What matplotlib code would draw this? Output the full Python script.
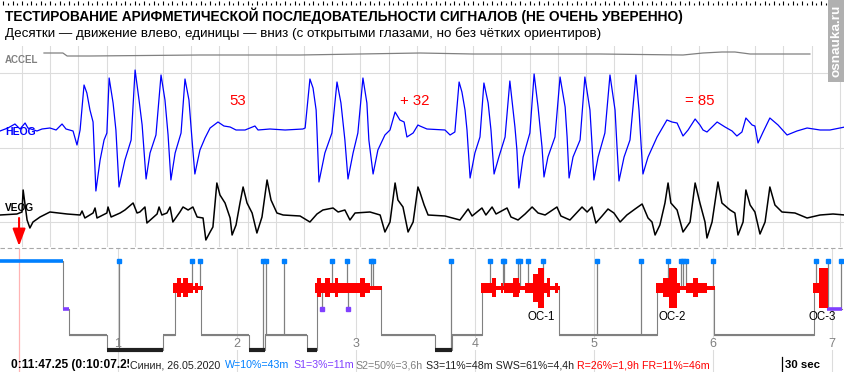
import numpy as np
import matplotlib
matplotlib.use("Agg")
import matplotlib.pyplot as plt
from matplotlib.patches import Rectangle
from matplotlib.lines import Line2D

plt.rcParams["font.family"] = ["Liberation Sans", "DejaVu Sans"]

# ---------------- upper panel: one 30 s epoch, time in seconds ----------------
heog_t = [-0.78, -0.50, -0.25, -0.07, 0.11, 0.21, 0.53, 0.71, 0.99, 1.21, 1.42, 1.56, 1.81, 1.95, 2.06,
          2.20, 2.30, 2.41, 2.52, 2.62, 2.77, 2.91, 3.01, 3.09, 3.23, 3.33, 3.44, 3.65, 3.87, 4.01,
          4.15, 4.26, 4.40, 4.54, 4.75, 4.93, 5.07, 5.18, 5.28, 5.43, 5.64, 5.78, 5.92, 6.03, 6.13,
          6.31, 6.49, 6.67, 6.95, 7.16, 7.38, 7.59, 7.91, 8.26, 8.37, 8.79, 9.33, 9.96, 10.04, 10.21,
          10.32, 10.43, 10.46, 10.53, 10.74, 10.99, 11.17, 11.31, 11.45, 11.56, 11.74, 11.91, 12.09,
          12.23, 12.30, 12.45, 12.62, 12.87, 13.05, 13.23, 13.40, 13.55, 13.65, 13.87, 14.04, 14.11,
          14.36, 15.00, 15.18, 15.35, 15.50, 15.60, 15.71, 15.78, 15.89, 16.06, 16.24, 16.38, 16.53,
          16.63, 16.74, 16.91, 17.13, 17.30, 17.48, 17.55, 17.62, 17.77, 18.01, 18.16, 18.30, 18.44,
          18.51, 18.65, 18.90, 19.08, 19.26, 19.33, 19.40, 19.54, 19.79, 19.96, 20.14, 20.21, 20.28,
          20.43, 20.67, 20.85, 21.03, 21.10, 21.17, 21.35, 21.56, 21.77, 21.88, 21.95, 22.02, 22.20,
          22.52, 22.87, 23.05, 23.23, 23.44, 23.62, 23.87, 24.04, 24.15, 24.29, 24.65, 24.93, 25.18,
          25.35, 25.53, 25.67, 25.89, 25.99, 26.10, 26.28, 26.52, 26.81, 27.13, 27.48, 27.84, 28.30,
          28.65, 29.18]
heog_v = [-1, 2, 6, 1, 7, 2, -1, 1, 2, 0, 6, 1, -1, -15, 0,
          45, 37, 20, 8, -61, -30, -10, -3, 52, 27, 0, -57, -30, -10, 60,
          30, 5, -49, -23, -5, 55, 30, -5, -50, -23, -3, 51, 30, -10, -44,
          -20, -8, 2, 8, 4, 3, 0, 0, 4, 0, 1, 0, 1, 2, 51,
          42, 20, 0, -52, -23, -3, 48, 27, -10, -49, -23, -3, 52,
          27, -10, -44, -20, -5, 0, 18, 10, 8, -7, -3, 5, 4,
          1, 0, -5, -2, 48, 38, 20, 0, -48, -23, -7, 47, 27,
          0, -44, -27, -7, 49, 3, -20, -58, -27, -3, 56, 23, -17,
          -47, -27, -7, 53, 23, -7, -48, -27, -10, 53, 20, -13, -50,
          -27, -3, 55, 20, -17, -51, -27, -10, 55, 20, -13, -44, -27,
          -7, 10, 8, 7, -6, 0, 11, 5, 0, -2, 8, 3, -1,
          -6, -2, 12, 5, 4, -13, -2, 12, 5, -5, -1, 2, 0,
          0, 3]

veog_t = [-0.78, -0.18, 0.00, 0.04, 0.11, 0.18, 0.28, 0.39, 0.64, 0.99, 1.60, 2.06, 2.13, 2.23, 2.52,
          2.59, 2.66, 3.01, 3.05, 3.16, 3.48, 3.65, 3.94, 4.08, 4.18, 4.36, 4.43, 4.79, 4.86, 4.96,
          5.14, 5.25, 5.35, 5.60, 5.71, 5.89, 6.06, 6.21, 6.42, 6.52, 6.67, 6.77, 6.91, 7.02, 7.20,
          7.38, 7.45, 7.59, 7.73, 7.84, 7.98, 8.16, 8.33, 8.51, 8.69, 8.83, 9.04, 9.26, 9.86, 10.21,
          10.46, 10.67, 11.03, 11.21, 11.45, 11.63, 11.81, 12.34, 12.70, 12.87, 13.05, 13.23, 13.33,
          13.51, 13.69, 13.87, 14.04, 14.11, 14.26, 14.40, 15.00, 15.53, 15.82, 15.96, 16.31, 16.45,
          16.67, 16.81, 17.20, 17.34, 17.59, 17.84, 18.09, 18.30, 18.55, 18.97, 19.11, 19.43, 19.86,
          20.04, 20.21, 20.35, 20.57, 20.78, 20.99, 21.21, 21.45, 21.74, 21.99, 22.20, 22.34, 22.45,
          22.62, 22.80, 22.91, 23.01, 23.23, 23.44, 23.69, 23.87, 24.04, 24.22, 24.29, 24.47, 24.68,
          24.82, 25.11, 25.28, 25.39, 25.57, 25.67, 25.82, 25.99, 26.17, 26.35, 26.52, 26.70, 26.95,
          27.41, 27.84, 28.30, 28.76, 29.18]
veog_v = [0, 1, 3, 25, 10, -5, -13, -7, -2, 3, 1, 0, 4, -3, 2,
          7, -3, 2, 8, -2, 2, 5, 12, 2, 3, 8, -8, 1, 8, 0,
          2, 8, -7, 3, 8, 5, 8, -2, -3, -25, -17, -12, 32, 20, 12,
          -3, -20, -10, 12, 28, 12, 2, -18, -2, 35, 15, 2, 0, -1, -7,
          1, 5, 7, 3, 5, -5, 2, 3, 0, -17, -7, 32, 15,
          8, -17, -7, 28, 23, 10, 0, -1, -5, 6, -1, 7, 0,
          8, 1, 7, -2, -5, 1, 8, 2, 0, 8, -1, -5, 8,
          3, 8, -8, -1, 6, 2, -7, 0, 6, 11, -3, -7, -20,
          -10, 12, 32, 12, 5, -17, -7, 32, 12, -7, -23, -7, 33,
          12, 5, 2, -20, -7, 25, 10, 3, -19, -7, 28, 10, 3,
          2, -3, 0, 1, 0]

accel_t = [0.78, 1.45, 1.60, 2.41, 6.31, 9.86, 14.11, 15.99, 20.50, 23.44, 24.15, 24.82, 25.28, 25.82, 27.94]
accel_v = [1, 1, -2, -2, -1, -1, 1, 0, 0, -1, 1, 2, 2, 0, 0]

task_notes = ["53", "+ 32", "= 85"]
task_note_t = [7.66, 13.94, 24.04]

# ---------------- hypnogram: minutes from start of record ----------------
hyp_start = [0, 32.3, 35.3, 54.5, 82.7, 88.7, 101.8, 126.0, 134.0, 155.3, 160.3, 192.6, 219.8,
             228.2, 243.5, 282.4, 331.8, 360.5, 410.9, 417.5]
hyp_stage = ["W", "S1", "S2", "S3", "S2", "R", "S2", "S3", "S2", "S3", "R", "S2", "S3",
             "S2", "R", "S2", "R", "S2", "R", "S1"]
hyp_end = 425.0

wake_blips = [60.5, 97.3, 101.3, 133.1, 134.4, 143.7, 167.9, 175.5, 187.6, 188.6, 227.9, 247.6,
              254.1, 254.6, 261.7, 262.7, 266.7, 274.3, 301.5, 323.7, 337.3, 343.9, 344.9, 346.4,
              360.0, 411.9, 418.0, 424.5]
s1_blips = [162.9, 175.9]

# REM density inside each REM period: (start, end, density level)
rem_1 = [(87.6, 89.6, 2), (89.6, 91.6, 3), (91.6, 92.6, 2), (92.6, 95.3, 3), (95.3, 98.0, 2),
         (98.0, 98.8, 1), (98.8, 100.2, 2), (100.2, 102.7, 1)]
rem_2 = [(159.3, 160.2, 2), (160.2, 162.4, 3), (162.4, 164.4, 2), (164.4, 166.9, 3), (166.9, 169.4, 2),
         (169.4, 170.8, 3), (170.8, 182.0, 2), (182.0, 184.5, 3), (184.5, 187.1, 2), (187.1, 193.0, 1)]
rem_3 = [(243.0, 248.4, 2), (248.4, 250.6, 3), (250.6, 253.1, 1), (253.1, 254.3, 2), (254.3, 254.8, 1),
         (254.8, 259.3, 2), (259.3, 262.2, 3), (262.2, 262.7, 2), (262.7, 265.2, 1), (265.2, 269.4, 2),
         (269.4, 271.9, 3.5), (271.9, 274.8, 4), (274.8, 276.1, 2), (276.1, 277.8, 3), (277.8, 280.3, 1),
         (280.3, 282.0, 2), (282.0, 282.9, 1)]
rem_4 = [(331.3, 334.6, 2), (334.6, 338.0, 3), (338.0, 342.0, 4), (342.0, 343.4, 2), (343.4, 346.4, 1),
         (346.4, 349.8, 2), (349.8, 352.6, 3), (352.6, 356.8, 2), (356.8, 361.0, 1)]
rem_5 = [(410.6, 413.6, 2), (413.6, 418.1, 4)]
rem_periods = [rem_1, rem_2, rem_3, rem_4, rem_5]

os_marks = [273.3, 339.6, 415.2]
os_names = ["ОС-1", "ОС-2", "ОС-3"]
hour_marks = [1, 2, 3, 4, 5, 6, 7]
cursor_min = 10.12

stat_parts = ["Синин, 26.05.2020", "W=10%=43m", "S1=3%=11m", "S2=50%=3,6h",
              "S3=11%=48m SWS=61%=4,4h", "R=26%=1,9h FR=11%=46m"]

# ---------------- layout (pixels of the 845x372 picture) ----------------
W_PX, H_PX = 845, 372
SIG_TOP, SIG_BOT = 46, 247
HEOG_BASE, VEOG_BASE, ACCEL_BASE = 130, 215, 54
STAGE_Y = {"W": 260.5, "R": 287.5, "S1": 309, "S2": 335, "S3": 350}
REM_HALF = {1: 2.0, 2: 5.0, 3: 9.7, 3.5: 14.0, 4: 20.0}
BLUE, PURPLE, GRID = "#0080ff", "#8040ff", "#dcdcdc"


def fx(x):
    return x / W_PX


def fy(y):
    return 1 - y / H_PX


def px_axes(x0, y0, x1, y1):
    a = fig.add_axes([fx(x0), fy(y1), (x1 - x0) / W_PX, (y1 - y0) / H_PX])
    a.set_axis_off()
    return a


fig = plt.figure(figsize=(8.45, 3.72), dpi=100)
fig.patch.set_facecolor("white")

sec_lim = ((0 - 22) / 28.2, (W_PX - 22) / 28.2)
min_lim = (60 / 119, (W_PX + 1) * 60 / 119)

# ticks along the top edge
ax_tk = px_axes(0, 0, W_PX, 6)
ax_tk.set_xlim(*sec_lim)
ax_tk.set_ylim(6, 0)
tk = np.arange(-1, 30, 1 / 6)
ax_tk.vlines(tk, [1 if i % 2 == 0 else 2.7 for i in range(len(tk))], 5, color="black", lw=0.8)

# signal panel (y in pixel-sized units, up positive)
ax = px_axes(0, SIG_TOP, W_PX, SIG_BOT)
ax.set_xlim(*sec_lim)
ax.set_ylim(0, SIG_BOT - SIG_TOP)
for s in range(0, 30):
    ax.axvline(s, color=GRID, lw=0.8, zorder=0)
for gy in (73, 148, 222):
    ax.axhline(SIG_BOT - gy, color=GRID, lw=0.8, zorder=0)

ax.plot(accel_t, np.array(accel_v) + SIG_BOT - ACCEL_BASE, color="#808080", lw=0.9)
ax.plot(heog_t, np.array(heog_v) + SIG_BOT - HEOG_BASE, color="#0000ff", lw=0.9)
ax.plot(veog_t, np.array(veog_v) + SIG_BOT - VEOG_BASE, color="black", lw=1.1)

for note, t in zip(task_notes, task_note_t):
    ax.text(t, SIG_BOT - 101, note, color="red", fontsize=10.8, ha="center", va="center")

fig.text(fx(5), fy(63), "ACCEL", color="#808080", fontsize=7, weight="bold")
fig.text(fx(5), fy(135), "HEOG", color="#0000ff", fontsize=7.5, weight="bold")
fig.text(fx(5), fy(211), "VEOG", color="black", fontsize=7.3, weight="bold")

# hypnogram panel (y in picture pixels, downwards)
hx = px_axes(0, SIG_BOT, W_PX, H_PX)
hx.set_xlim(*min_lim)
hx.set_ylim(H_PX, SIG_BOT)
hx.axhline(SIG_BOT + 0.5, color="#a8a8a8", lw=0.8, ls=(0, (4, 2.5)))

for h in hour_marks:
    hx.vlines(h * 60, SIG_BOT + 1, H_PX, color=GRID, lw=0.8, zorder=0)
    hx.text(h * 60, 344, str(h), color="#808080", fontsize=9, ha="center", va="center",
            bbox=dict(facecolor="white", edgecolor="none", pad=0.3), zorder=1)

hx.vlines(cursor_min, SIG_BOT + 1, H_PX, color="#ffb4b4", lw=0.9, zorder=1)
hx.annotate("", xy=(cursor_min, 246), xytext=(cursor_min, 218), annotation_clip=False,
            arrowprops=dict(arrowstyle="-|>,head_length=0.8,head_width=0.3", color="red",
                            lw=1.5, mutation_scale=13, shrinkA=0, shrinkB=0))

edges = hyp_start + [hyp_end]
levels = [STAGE_Y[s] for s in hyp_stage]
hx.step(edges, levels + [levels[-1]], where="post", color="#808080", lw=0.8, zorder=2)


def stage_at(m):
    i = np.searchsorted(hyp_start, m, side="right") - 1
    return hyp_stage[i]


for m in wake_blips:
    hx.vlines(m, STAGE_Y["W"], STAGE_Y[stage_at(m)], color="#808080", lw=0.9, zorder=2)
for m in s1_blips:
    hx.vlines(m, STAGE_Y[stage_at(m)], STAGE_Y["S1"], color="#808080", lw=0.9, zorder=2)

for a, b, s in zip(edges[:-1], edges[1:], hyp_stage):
    y = STAGE_Y[s]
    if s == "W":
        hx.hlines(y, a, b, color=BLUE, lw=2.6, zorder=3)
    elif s == "S1":
        hx.hlines(y, a, b, color=PURPLE, lw=2.6, zorder=3)
    elif s == "S2":
        hx.hlines(y, a, b, color="#808080", lw=1.5, zorder=3)
    elif s == "S3":
        hx.hlines(y, a, b, color="#202020", lw=3.0, zorder=3)

for period in rem_periods:
    for a, b, d in period:
        half = REM_HALF[d]
        hx.bar(a, 2 * half, width=b - a, bottom=STAGE_Y["R"] - half, align="edge",
               color="#ff0000", lw=0, zorder=4)

hx.plot(wake_blips, [STAGE_Y["W"]] * len(wake_blips), ls="none", marker="s", ms=3,
        color=BLUE, mec=BLUE, zorder=5)
hx.plot(s1_blips, [STAGE_Y["S1"]] * len(s1_blips), ls="none", marker="s", ms=3,
        color=PURPLE, mec=PURPLE, zorder=5)

for m, name in zip(os_marks, os_names):
    hx.text(m, 317, name, color="black", fontsize=8.3, ha="center", va="center", zorder=6)

# titles
fig.text(fx(5), fy(21), "ТЕСТИРОВАНИЕ АРИФМЕТИЧЕСКОЙ ПОСЛЕДОВАТЕЛЬНОСТИ СИГНАЛОВ (НЕ ОЧЕНЬ УВЕРЕННО)",
         fontsize=9.9, weight="bold", color="black", va="baseline")
fig.text(fx(5), fy(37.5), "Десятки — движение влево, единицы — вниз (с открытыми глазами, но без чётких ориентиров)",
         fontsize=9.6, color="black", va="baseline")

# watermark
fig.patches.append(Rectangle((fx(828), fy(82)), 17 / W_PX, 82 / H_PX, transform=fig.transFigure,
                             facecolor="#b0b0b0", edgecolor="none"))
fig.text(fx(836.5), fy(41), "osnauka.ru", rotation=90, color="white", fontsize=9.7,
         weight="bold", ha="center", va="center")

# bottom line
fig.text(fx(11), fy(368), "0:11:47.25 (0:10:07.25)", fontsize=8.6, weight="bold", va="baseline")
stat_x = [130, 225, 293, 355, 426, 577]
stat_c = ["#202020", BLUE, PURPLE, "#808080", "#202020", "#ff0000"]
for txt, x, c in zip(stat_parts, stat_x, stat_c):
    bb = dict(facecolor="white", edgecolor="none", pad=0.4) if x == stat_x[0] else None
    fig.text(fx(x), fy(368), txt, fontsize=7.7, color=c, va="baseline", bbox=bb)

fig.add_artist(Line2D([fx(782), fx(782)], [fy(357), fy(372)], transform=fig.transFigure,
                      color="black", lw=0.9))
fig.text(fx(785), fy(368), "30 sec", fontsize=8.2, weight="bold", va="baseline")

fig.savefig("out.png", dpi=100, facecolor="white")
